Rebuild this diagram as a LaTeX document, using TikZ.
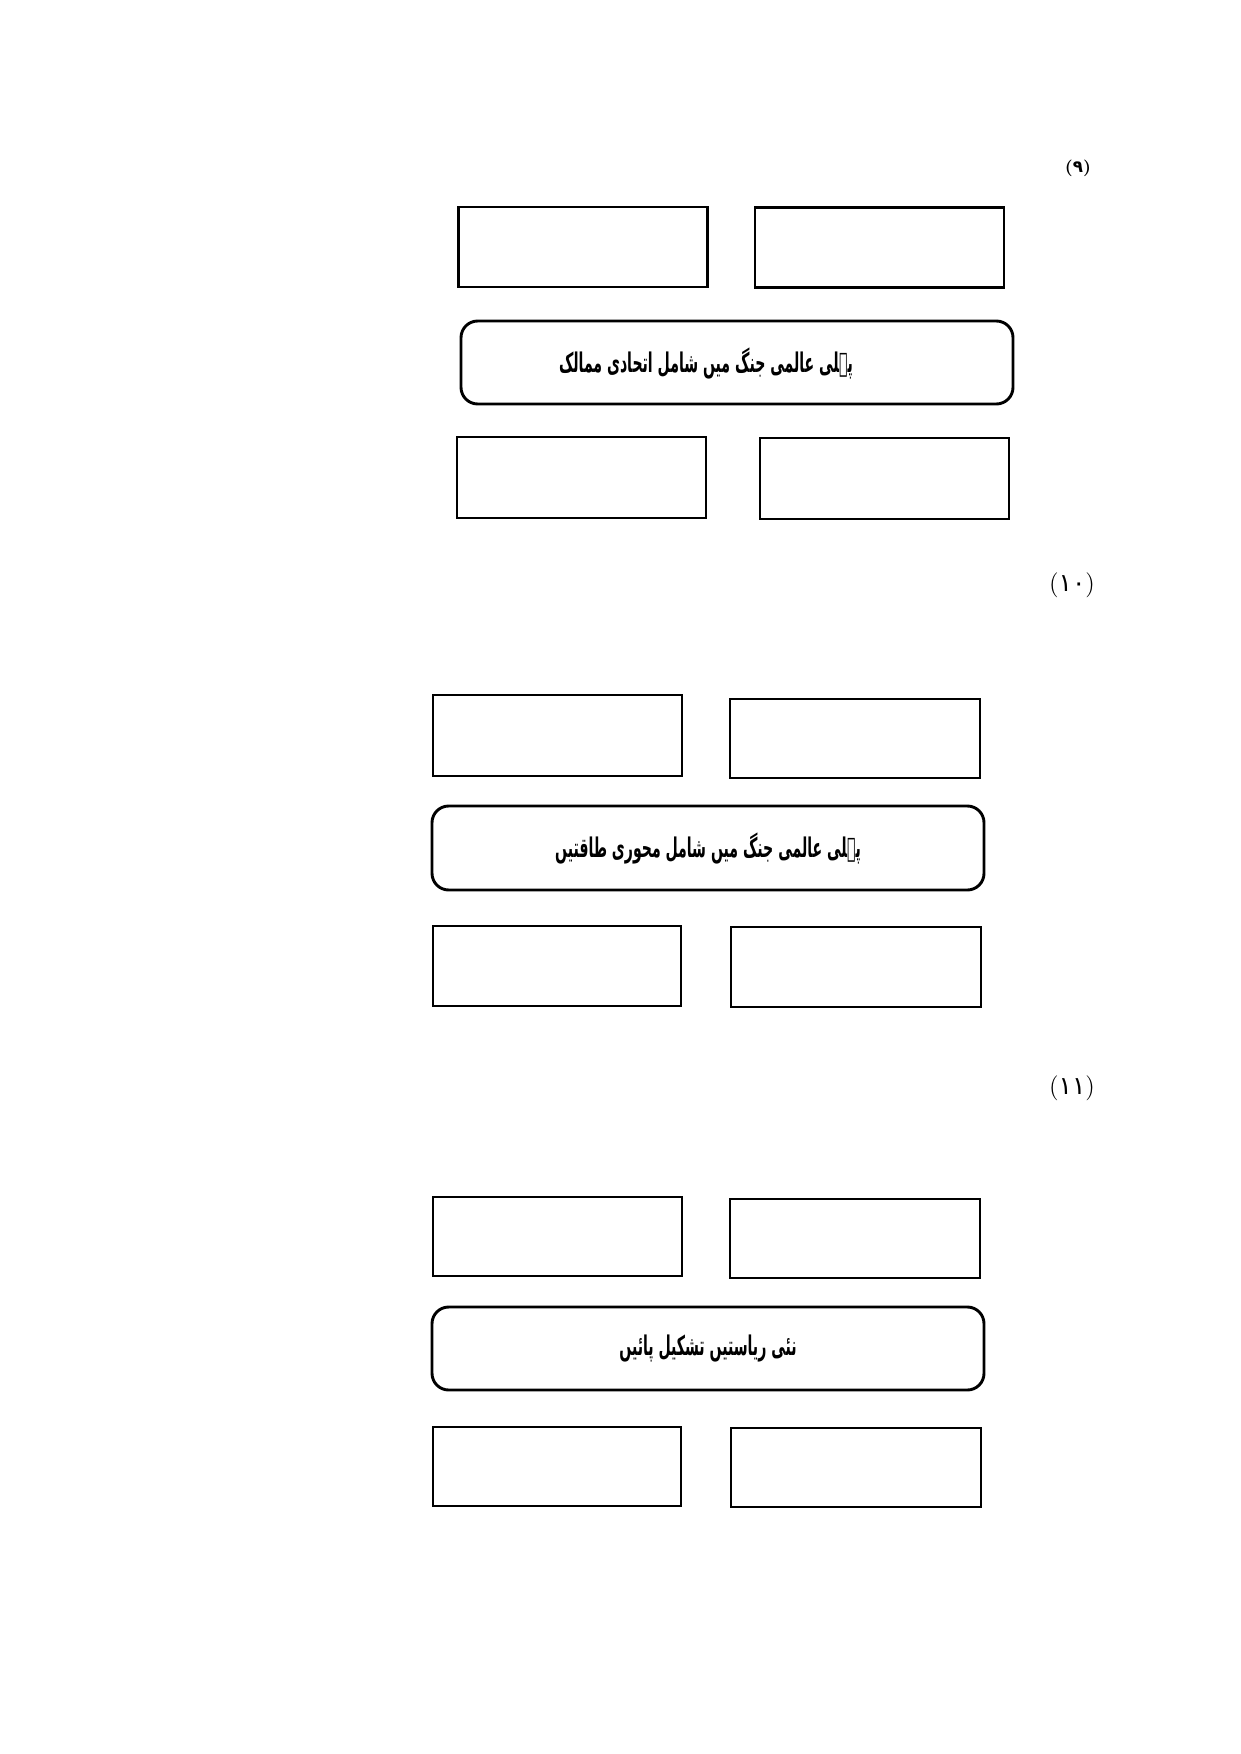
\documentclass[tikz,border=0pt]{standalone}
\usepackage{fontspec}
\newfontfamily\urdu[Script=Arabic]{DejaVu Sans}
\newfontfamily\urdunarrow[Script=Arabic,FakeStretch=0.52]{DejaVu Sans Bold}
\TeXXeTstate=1
\def\u{0.4797pt}
\begin{document}
\begin{tikzpicture}[x=0.4797pt,y=-0.4797pt,
  box/.style={draw=black,line width=1.4pt,inner sep=0pt,outer sep=0pt,minimum width=249*\u,minimum height=80*\u},
  title/.style={draw=black,line width=1.4pt,rounded corners=8pt,inner sep=0pt,outer sep=0pt,minimum width=552*\u,minimum height=83*\u},
  ut/.style={font=\urdunarrow\fontsize{13}{15}\selectfont,inner sep=0pt},
  num/.style={inner sep=0pt}]
\useasboundingbox (0,0) rectangle (1241,1754);
% section 9
\node[num,font=\bfseries\fontsize{8}{9}\selectfont] (l9) at (1078,168) {({\urdu\bfseries ۹})};
\node[box] (b9a) at (583,247) {};
\node[box] (b9b) at (879.5,247.5) {};
\node[title,minimum height=83*\u] (t9) at (737,362.5) {};
\node[ut] (x9) at (706,363) {\beginR پہلی عالمی جنگ میں شامل اتحادی ممالک\endR};
\node[box,minimum height=81*\u] (b9c) at (581.5,477.5) {};
\node[box,minimum height=81*\u] (b9d) at (884.5,478.5) {};
% section 10
\node[num,font=\fontsize{12}{14}\selectfont] (l10) at (1072,585) {({\urdu ۱۰})};
\node[box,minimum height=81*\u] (b10a) at (557.5,735.5) {};
\node[box,minimum width=250*\u,minimum height=79*\u] (b10b) at (855,738.5) {};
\node[title,minimum height=84*\u,ut] (t10) at (708,848) {\beginR پہلی عالمی جنگ میں شامل محوری طاقتیں\endR};
\node[box,minimum width=248*\u] (b10c) at (557,966) {};
\node[box,minimum width=250*\u] (b10d) at (856,967) {};
% section 11
\node[num,font=\fontsize{12}{14}\selectfont] (l11) at (1072,1088) {({\urdu ۱۱})};
\node[box,minimum height=79*\u] (b11a) at (557.5,1236.5) {};
\node[box,minimum width=250*\u,minimum height=79*\u] (b11b) at (855,1238.5) {};
\node[title,ut] (t11) at (708,1348.5) {\beginR نئی ریاستیں تشکیل پائیں\endR};
\node[box,minimum width=248*\u,minimum height=79*\u] (b11c) at (557,1466.5) {};
\node[box,minimum width=250*\u,minimum height=79*\u] (b11d) at (856,1467.5) {};
\end{tikzpicture}
\end{document}
